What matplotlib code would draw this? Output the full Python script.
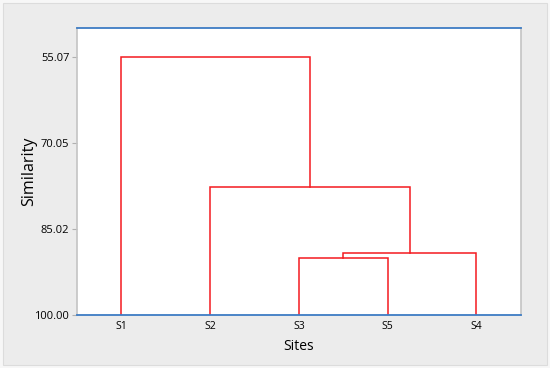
import matplotlib
matplotlib.use("Agg")
import matplotlib.pyplot as plt
from matplotlib.patches import Rectangle

# Data
leaves = ["S1", "S2", "S3", "S5", "S4"]
# merges: (left cluster, right cluster, similarity level)
merge_left = ["S3", "C1", "S2", "S1"]
merge_right = ["S5", "S4", "C2", "C3"]
merge_sim = [90.07, 89.2, 77.7, 55.07]
ytick_vals = [55.07, 70.05, 85.02, 100.00]
ytick_labels = ["55.07", "70.05", "85.02", "100.00"]

plt.rcParams['font.family'] = ['Open Sans', 'DejaVu Sans']

fig = plt.figure(figsize=(5.5, 3.68), dpi=100)
fig.patch.set_facecolor("#f7f7f7")
fig.patches.append(Rectangle((0.006, 0.008), 0.988, 0.984, transform=fig.transFigure,
                             facecolor="#ececec", edgecolor="#dcdcdc", linewidth=0.8, zorder=-5))

ax = fig.add_axes([0.14, 0.144, 0.807, 0.78])
ax.set_zorder(2)
ax.set_facecolor("white")

pos = {name: i + 1 for i, name in enumerate(leaves)}
height = {name: 100.0 for name in leaves}
red = "#f41a1f"
for k, (a, b, s) in enumerate(zip(merge_left, merge_right, merge_sim)):
    xa, xb = pos[a], pos[b]
    ax.plot([xa, xa, xb, xb], [height[a], s, s, height[b]], color=red, lw=1.1,
            solid_joinstyle="miter", zorder=3)
    name = f"C{k+1}"
    pos[name] = (xa + xb) / 2
    height[name] = s

ax.set_xlim(0.5, len(leaves) + 0.5)
ax.set_ylim(100.0, 50.05)
ax.set_xticks(range(1, len(leaves) + 1))
ax.set_xticklabels(leaves, fontsize=7.5)
ax.set_yticks(ytick_vals)
ax.set_yticklabels(ytick_labels, fontsize=8)
ax.tick_params(axis="x", length=0, pad=4)
ax.tick_params(axis="y", length=3.5, width=0.8, color="#b0b0b0", pad=2)

for side in ("top", "bottom"):
    ax.spines[side].set_color("#3d7cc4")
    ax.spines[side].set_linewidth(1.3)
for side in ("left", "right"):
    ax.spines[side].set_color("#c4c4c4")
    ax.spines[side].set_linewidth(1.2)
ax.spines["bottom"].set_zorder(4)

ax.set_xlabel("Sites", fontsize=10, labelpad=5)
ax.set_ylabel("Similarity", fontsize=11.5, labelpad=-2)

fig.savefig("out.png", dpi=100, facecolor=fig.get_facecolor())
